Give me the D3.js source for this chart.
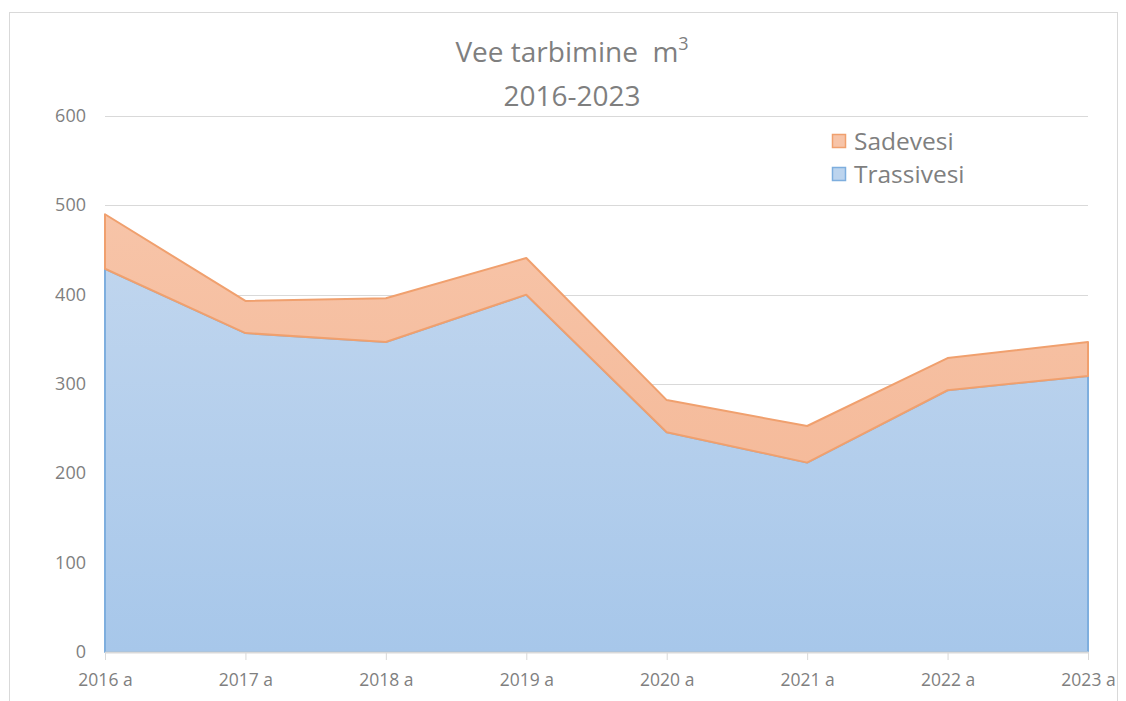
<!DOCTYPE html>
<html><head><meta charset="utf-8">
<script src="https://cdn.jsdelivr.net/npm/d3@7"></script>
<style>body{margin:0;background:#fff;}svg{display:block;font-family:"Open Sans","Liberation Sans",sans-serif;}</style>
</head><body>
<svg id="c" width="1126" height="701"></svg>
<script>
const categories = ["2016 a","2017 a","2018 a","2019 a","2020 a","2021 a","2022 a","2023 a"];
const trassivesi = [429, 357, 347, 400, 246, 212, 293, 309];
const sadevesi = [61, 36, 49, 41, 36, 41, 36, 38];
const yTicks = [0,100,200,300,400,500,600];
const seriesNames = ["Sadevesi","Trassivesi"];

const svg = d3.select("#c");
const defs = svg.append("defs");
const gb = defs.append("linearGradient").attr("id","gb").attr("x1",0).attr("y1",0).attr("x2",0).attr("y2",1);
gb.append("stop").attr("offset","0%").attr("stop-color","#bfd5ee");
gb.append("stop").attr("offset","100%").attr("stop-color","#a7c7ea");
const go = defs.append("linearGradient").attr("id","go").attr("x1",0).attr("y1",0).attr("x2",0).attr("y2",1);
go.append("stop").attr("offset","0%").attr("stop-color","#f7c4a8");
go.append("stop").attr("offset","100%").attr("stop-color","#f5bb9b");

// frame
svg.append("rect").attr("x",9.5).attr("y",12.5).attr("width",1108).attr("height",720).attr("fill","none").attr("stroke","#d9d9d9");

const x = d3.scalePoint().domain(categories).range([105,1088]);
const y = d3.scaleLinear().domain([0,600]).range([652,116]);

// grid
svg.append("g").selectAll("line").data(yTicks.filter(d=>d>0)).join("line")
  .attr("x1",105).attr("x2",1088).attr("y1",d=>Math.round(y(d))+0.5).attr("y2",d=>Math.round(y(d))+0.5)
  .attr("stroke","#d9d9d9").attr("stroke-width",1);

// y labels
svg.append("g").selectAll("text").data(yTicks).join("text")
  .attr("x",86).attr("y",d=>y(d)+6).attr("text-anchor","end")
  .attr("font-size",18).attr("fill","#7f7f7f").text(d=>d);

const data = categories.map((c,i)=>({c, t:trassivesi[i], s:sadevesi[i]}));
const areaT = d3.area().x(d=>x(d.c)).y0(y(0)).y1(d=>y(d.t));
const areaS = d3.area().x(d=>x(d.c)).y0(d=>y(d.t)).y1(d=>y(d.t+d.s));

svg.append("path").datum(data).attr("d",areaT).attr("fill","url(#gb)")
  .attr("stroke","#7eaede").attr("stroke-width",2).attr("stroke-linejoin","round");
svg.append("path").datum(data).attr("d",areaS).attr("fill","url(#go)")
  .attr("stroke","#f0a06e").attr("stroke-width",2).attr("stroke-linejoin","round");

// x axis
const xa = svg.append("g").attr("transform",`translate(0,${y(0)})`)
  .call(d3.axisBottom(x).tickSize(8).tickSizeOuter(0).tickPadding(14));
xa.select(".domain").attr("stroke","#d9d9d9").attr("stroke-width",2);
xa.selectAll(".tick line").attr("stroke","#d9d9d9");
xa.selectAll(".tick text").attr("font-size",17.5).attr("fill","#7f7f7f").attr("font-family","'Open Sans','Liberation Sans',sans-serif");

// title
const title = svg.append("text").attr("x",572).attr("y",62).attr("text-anchor","middle")
  .attr("font-size",28).attr("fill","#7f7f7f").style("white-space","pre");
title.append("tspan").text("Vee tarbimine  m");
title.append("tspan").attr("font-size",18).attr("dy",-12).text("3");
svg.append("text").attr("x",572).attr("y",106).attr("text-anchor","middle")
  .attr("font-size",28).attr("fill","#7f7f7f").text("2016-2023");

// legend
const legCol = {Sadevesi:["#f7c4a8","#f0a06e"], Trassivesi:["#bcd4ee","#7eaede"]};
const lg = svg.append("g").selectAll("g").data(seriesNames).join("g")
  .attr("transform",(d,i)=>`translate(832,${134+i*33})`);
lg.append("rect").attr("x",0.5).attr("y",0.5).attr("width",13).attr("height",13)
  .attr("fill",d=>legCol[d][0]).attr("stroke",d=>legCol[d][1]).attr("stroke-width",1.5);
lg.append("text").attr("x",22).attr("y",16).attr("font-size",24.5).attr("fill","#7f7f7f").text(d=>d);
</script>
</body></html>
